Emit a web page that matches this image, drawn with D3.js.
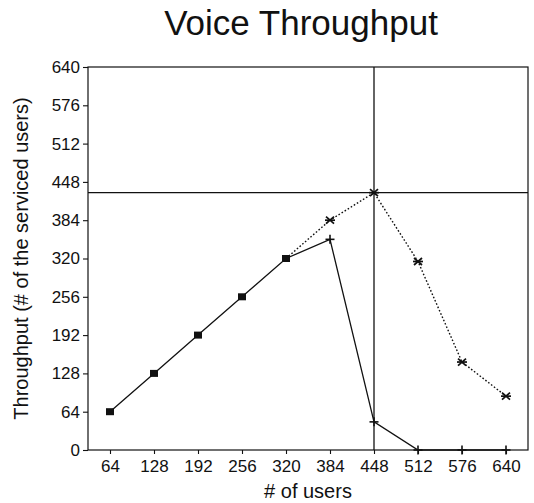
<!DOCTYPE html>
<html>
<head>
<meta charset="utf-8">
<script src="https://cdn.jsdelivr.net/npm/d3@7"></script>
<style>
  html, body { margin: 0; padding: 0; background: #fff; }
  svg { display: block; }
  text { font-family: "Liberation Sans", Arial, Helvetica, sans-serif; fill: #111; }
</style>
</head>
<body>
<svg id="chart" width="534" height="503"></svg>
<script>
// ---- data ----
const users = [64, 128, 192, 256, 320, 384, 448, 512, 576, 640];
const solidSeries = [64, 128, 192, 256, 320, 352, 47, 0, 0, 0];
const dottedSeries = [null, null, null, null, 320, 384, 430, 315, 147, 90];
const xTickLabels = [64, 128, 192, 256, 320, 384, 448, 512, 576, 640];
const yTickLabels = [0, 64, 128, 192, 256, 320, 384, 448, 512, 576, 640];
const refX = 448;
const refY = 430;
const squareUpTo = 320;
const title = "Voice Throughput";
const xTitle = "# of users";
const yTitle = "Throughput (# of the serviced users)";

// ---- layout ----
const svg = d3.select("#chart");
const L = 88, R = 528, T = 67, B = 450;
const x = d3.scaleLinear().domain([32, 672]).range([L, R]);
const y = d3.scaleLinear().domain([0, 640]).range([B, T]);
const ink = "#111";

// title
svg.append("text").attr("x", 301).attr("y", 35).attr("text-anchor", "middle")
  .style("font-size", "35px").text(title);

// frame
svg.append("rect").attr("x", L).attr("y", T).attr("width", R - L).attr("height", B - T)
  .attr("fill", "none").attr("stroke", ink).attr("stroke-width", 1.2);

// axes
const yAxis = svg.append("g").attr("transform", `translate(${L},0)`)
  .call(d3.axisLeft(y).tickValues(yTickLabels).tickSize(5).tickPadding(3));
const xAxis = svg.append("g").attr("transform", `translate(0,${B})`)
  .call(d3.axisBottom(x).tickValues(xTickLabels).tickSize(4).tickPadding(6));
[yAxis, xAxis].forEach(g => {
  g.select(".domain").remove();
  g.selectAll("line").attr("stroke", ink).attr("stroke-width", 1.1);
  g.selectAll("text").style("font-size", "17px").attr("fill", ink)
    .style("font-family", '"Liberation Sans", Arial, sans-serif');
});

// axis titles
svg.append("text").attr("x", 308).attr("y", 498).attr("text-anchor", "middle")
  .style("font-size", "20px").text(xTitle);
svg.append("text").attr("transform", `translate(28,${(T + B) / 2}) rotate(-90)`)
  .attr("text-anchor", "middle").style("font-size", "20px").text(yTitle);

// reference lines
svg.append("line").attr("x1", x(refX)).attr("x2", x(refX)).attr("y1", T).attr("y2", B)
  .attr("stroke", ink).attr("stroke-width", 1.3);
svg.append("line").attr("x1", L).attr("x2", R).attr("y1", y(refY)).attr("y2", y(refY))
  .attr("stroke", ink).attr("stroke-width", 1.3);

// series data
const solidPts = users.map((u, i) => ({ u, v: solidSeries[i] }));
const dottedPts = users.map((u, i) => ({ u, v: dottedSeries[i] })).filter(d => d.v !== null);

const line = d3.line().x(d => x(d.u)).y(d => y(d.v));

svg.append("path").datum(dottedPts).attr("d", line).attr("fill", "none")
  .attr("stroke", ink).attr("stroke-width", 1.4).attr("stroke-dasharray", "1.6,2");
svg.append("path").datum(solidPts).attr("d", line).attr("fill", "none")
  .attr("stroke", ink).attr("stroke-width", 1.3);

// star markers (dotted series, after shared point)
const stars = svg.append("g");
dottedPts.filter(d => d.u > squareUpTo).forEach(d => {
  const cx = x(d.u), cy = y(d.v), s = 4;
  const g = stars.append("g").attr("stroke", ink).attr("stroke-width", 1.7);
  g.append("line").attr("x1", cx - s - 1).attr("x2", cx + s + 1).attr("y1", cy).attr("y2", cy);
  g.append("line").attr("x1", cx - s).attr("x2", cx + s).attr("y1", cy - s + 0.5).attr("y2", cy + s - 0.5);
  g.append("line").attr("x1", cx - s).attr("x2", cx + s).attr("y1", cy + s - 0.5).attr("y2", cy - s + 0.5);
});

// plus markers (solid series, after squares)
const pluses = svg.append("g");
solidPts.filter(d => d.u > squareUpTo).forEach(d => {
  const cx = x(d.u), cy = y(d.v), s = 4.5;
  const g = pluses.append("g").attr("stroke", ink).attr("stroke-width", 1.6);
  g.append("line").attr("x1", cx - s).attr("x2", cx + s).attr("y1", cy).attr("y2", cy);
  g.append("line").attr("x1", cx).attr("x2", cx).attr("y1", cy - s).attr("y2", cy + s);
});

// square markers
svg.append("g").selectAll("rect").data(solidPts.filter(d => d.u <= squareUpTo)).join("rect")
  .attr("x", d => x(d.u) - 4).attr("y", d => y(d.v) - 3.5)
  .attr("width", 8).attr("height", 7).attr("fill", ink);
</script>
</body>
</html>
